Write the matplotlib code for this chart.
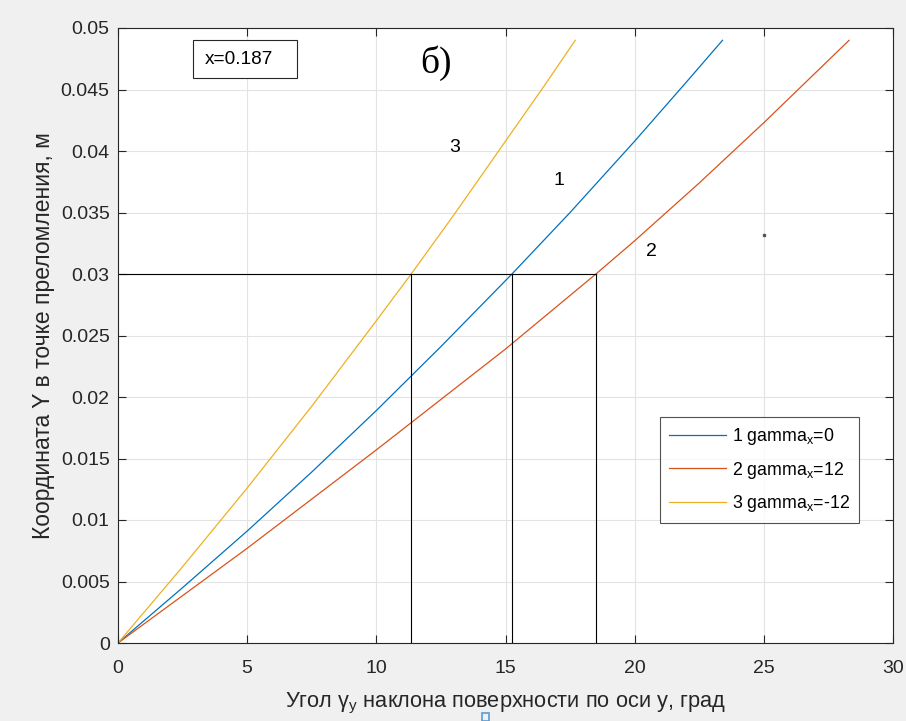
import matplotlib
matplotlib.use('Agg')
import matplotlib.pyplot as plt
from matplotlib.patches import Rectangle

plt.rcParams['font.family'] = ['Liberation Sans', 'DejaVu Sans']
plt.rcParams['mathtext.fontset'] = 'custom'
plt.rcParams['mathtext.rm'] = 'Liberation Sans'

# curve points (angle, deg ; Y, m)
angle_1 = [0, 2.5, 5, 7.5, 10, 12.5, 15.25, 17.5, 20, 22, 23.4]
y_1 = [0, 0.0045, 0.0091, 0.0139, 0.0189, 0.0241, 0.0300, 0.0350, 0.0408, 0.0456, 0.0490]
angle_2 = [0, 5, 10, 15, 18.5, 20, 22.5, 25, 28.3]
y_2 = [0, 0.0077, 0.0157, 0.0239, 0.0300, 0.0327, 0.0374, 0.0423, 0.0490]
angle_3 = [0, 2.5, 5, 7.5, 10, 11.35, 13, 15, 16.5, 17.7]
y_3 = [0, 0.0062, 0.0126, 0.01925, 0.0262, 0.0300, 0.0348, 0.0408, 0.0453, 0.0490]
legend_labels = ['1 gamma$_\\mathregular{x}$=0', '2 gamma$_\\mathregular{x}$=12',
                 '3 gamma$_\\mathregular{x}$=-12']

# reference level and crossing angles
y_ref = 0.03
cross_angles = [11.35, 15.25, 18.5]

fig = plt.figure(figsize=(9.06, 7.21), dpi=100, facecolor='#f0f0f0')
ax = fig.add_axes([118 / 906, 1 - 643 / 721, 775 / 906, 615 / 721])

ax.plot(angle_1, y_1, color='#0072bd', lw=0.9, label=legend_labels[0])
ax.plot(angle_2, y_2, color='#d95319', lw=0.9, label=legend_labels[1])
ax.plot(angle_3, y_3, color='#edb120', lw=0.9, label=legend_labels[2])

ax.plot([0, cross_angles[-1]], [y_ref, y_ref], color='black', lw=0.8)
for a in cross_angles:
    ax.plot([a, a], [0, y_ref], color='black', lw=0.8)

ax.set_xlim(0, 30)
ax.set_ylim(0, 0.05)
ax.set_xticks(range(0, 31, 5))
ax.set_yticks([i * 0.005 for i in range(11)])
ax.set_yticklabels(['0', '0.005', '0.01', '0.015', '0.02', '0.025', '0.03',
                    '0.035', '0.04', '0.045', '0.05'])
ax.grid(True, color='#e3e3e3', lw=0.8)
ax.set_axisbelow(True)
ax.tick_params(direction='in', top=True, right=True, labelsize=14,
               colors='#262626', length=6, width=0.8, pad=6)
ax.tick_params(axis='x', pad=12)
for s in ax.spines.values():
    s.set_color('#262626')
    s.set_linewidth(0.8)

ax.set_xlabel('Угол γ$_\\mathregular{y}$ наклона поверхности по оси у, град',
              fontsize=15.7, color='#262626', labelpad=10)
ax.set_ylabel('Координата Y в точке преломления, м', fontsize=16.5,
              color='#262626', labelpad=4)

ax.text(13.05, 0.0403, '3', fontsize=14, ha='center', va='center')
ax.text(17.07, 0.0376, '1', fontsize=14, ha='center', va='center')
ax.text(20.65, 0.0318, '2', fontsize=14, ha='center', va='center')
ax.text(12.3, 0.0471, 'б)', fontsize=27, family='Liberation Serif',
        ha='center', va='center')
ax.add_patch(Rectangle((2.9, 0.04593), 4.03, 0.00309, fc='white',
                       ec='#262626', lw=0.8, zorder=3))
ax.text(3.35, 0.04745, 'x=0.187', fontsize=13.7, ha='left', va='center', zorder=4)
ax.plot([25], [0.0332], marker='s', ms=1.5, color='#555555')

leg = ax.legend(loc='upper left', bbox_to_anchor=(542 / 775, (643 - 417) / 615),
                fontsize=12.8, frameon=True, fancybox=False, edgecolor='#262626',
                handlelength=3.2, handletextpad=0.35, borderpad=0.5,
                labelspacing=0.72, borderaxespad=0)
leg.get_frame().set_linewidth(0.8)

# small marker below the axis label, as in the screenshot
fig.patches.append(Rectangle((482 / 906, 0), 7 / 906, 8 / 721, fill=False,
                             ec='#5b9bd5', lw=1.2, transform=fig.transFigure))

fig.savefig('out.png', dpi=100, facecolor=fig.get_facecolor())
